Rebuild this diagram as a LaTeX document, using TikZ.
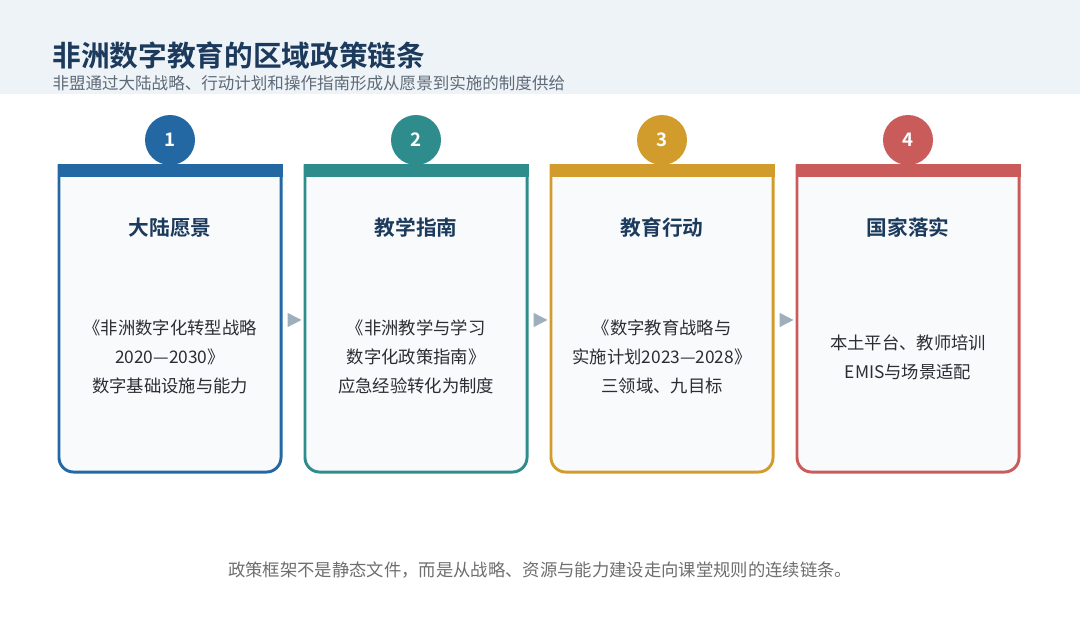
\documentclass[tikz,border=0pt]{standalone}
\usepackage{fontspec}
\setmainfont{Noto Sans CJK SC}[BoldFont={Noto Sans CJK SC Bold}]
\usetikzlibrary{arrows.meta}

\definecolor{band}{HTML}{EEF3F8}
\definecolor{navy}{HTML}{1C3A5C}
\definecolor{subgray}{HTML}{5E6A77}
\definecolor{cardbg}{HTML}{F8FAFC}
\definecolor{cblue}{HTML}{2368A2}
\definecolor{cteal}{HTML}{2E8C8C}
\definecolor{cgold}{HTML}{D29C2C}
\definecolor{cred}{HTML}{C95B5B}
\definecolor{bodytext}{HTML}{2A2E33}
\definecolor{pfeil}{HTML}{9DAFBC}
\definecolor{footgray}{HTML}{6E6E6E}

\tikzset{
	karte/.style={minimum width=165.75pt,minimum height=229.9pt,inner sep=0pt},
	nummer/.style={circle,minimum size=37.5pt,inner sep=0pt,text=white,font=\fontsize{14}{14}\selectfont\bfseries},
	kopf/.style={text=navy,font=\fontsize{15.5}{18}\selectfont\bfseries},
	inhalt/.style={text=bodytext,align=center,font=\fontsize{13}{21.75}\selectfont},
}

\begin{document}
\begin{tikzpicture}[x=0.75pt,y=-0.75pt,>=latex,thick]
\useasboundingbox (0,0) rectangle (1080,618);
\fill[band] (0,0) rectangle (1080,94);
%
\node[anchor=west,text=navy,font=\fontsize{21.5}{24}\selectfont\bfseries,inner sep=0pt] (titel) at (52,55) {非洲数字教育的区域政策链条};
\node[anchor=west,text=subgray,font=\fontsize{12.4}{14}\selectfont,inner sep=0pt] (untertitel) at (52,83) {非盟通过大陆战略、行动计划和操作指南形成从愿景到实施的制度供给};
%
\foreach \i/\cx/\col/\head/\body in {
	1/170/cblue/大陆愿景/{《非洲数字化转型战略\\2020—2030》\\数字基础设施与能力},
	2/416/cteal/教学指南/{《非洲教学与学习\\数字化政策指南》\\应急经验转化为制度},
	3/662/cgold/教育行动/{《数字教育战略与\\实施计划2023—2028》\\三领域、九目标},
	4/908/cred/国家落实/{本土平台、教师培训\\EMIS与场景适配}}{
	\node[karte] (karte\i) at (\cx,318.25) {};
	\fill[cardbg,rounded corners=11pt] (karte\i.north west) -- (karte\i.south west) -- (karte\i.south east) -- (karte\i.north east) -- cycle;
	\draw[\col,line width=2.2pt,rounded corners=11pt] (karte\i.north west) -- (karte\i.south west) -- (karte\i.south east) -- (karte\i.north east);
	\fill[\col] ([xshift=-1.1pt]karte\i.north west) rectangle ([xshift=1.1pt,yshift=-9.75pt]karte\i.north east);
	\node[nummer,fill=\col] (nr\i) at (\cx,140) {\i};
	\node[kopf] (kopf\i) at (\cx,228) {\head};
	\node[inhalt] (inhalt\i) at (\cx,357) {\body};
}
%
\foreach \a/\b in {1/2,2/3,3/4}{
	\draw[pfeil,line width=1pt,-{Triangle[length=10.5pt,width=10.5pt]},shorten <=5.6pt,shorten >=2.6pt] ([yshift=-1.3pt]karte\a.east) -- ([yshift=-1.3pt]karte\b.west);
}
%
\node[text=footgray,font=\fontsize{13}{15}\selectfont] (fuss) at (540,570) {政策框架不是静态文件，而是从战略、资源与能力建设走向课堂规则的连续链条。};
\end{tikzpicture}
\end{document}
